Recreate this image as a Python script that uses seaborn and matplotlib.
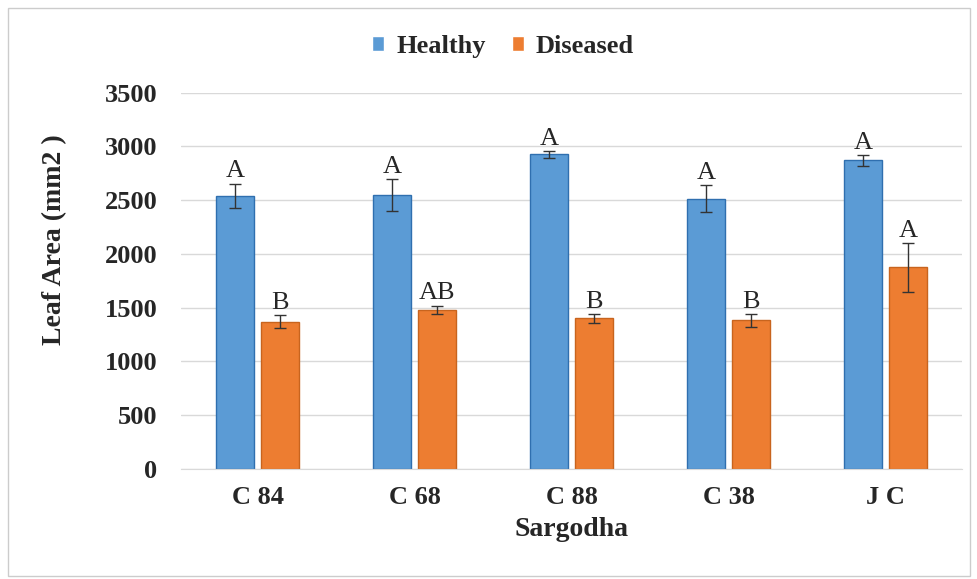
import pandas as pd
import matplotlib.pyplot as plt
import seaborn as sns

# Datos
cultivares = ['C 84', 'C 68', 'C 88', 'C 38', 'J C']
sano = [2540, 2545, 2925, 2515, 2870]
enfermo = [1370, 1480, 1400, 1385, 1875]
err_sano = [115, 150, 35, 125, 50]
err_enfermo = [60, 40, 40, 60, 225]
letras_sano = ['A', 'A', 'A', 'A', 'A']
letras_enfermo = ['B', 'AB', 'B', 'B', 'A']

df = pd.DataFrame({
    'Sargodha': cultivares * 2,
    'valor': sano + enfermo,
    'err': err_sano + err_enfermo,
    'letra': letras_sano + letras_enfermo,
    'grupo': ['Healthy'] * 5 + ['Diseased'] * 5,
})

sns.set_style('white')
plt.rcParams['font.family'] = ['Liberation Serif', 'DejaVu Serif']

fig, ax = plt.subplots(figsize=(9.77, 5.79), dpi=100)
fig.subplots_adjust(left=0.185, right=0.985, bottom=0.19, top=0.84)

colores = {'Healthy': '#5B9BD5', 'Diseased': '#ED7D31'}
sns.barplot(data=df, x='Sargodha', y='valor', hue='grupo', palette=colores,
            width=0.57, gap=0.15, ax=ax, errorbar=None, saturation=1)

# Bordes de las barras, barras de error y letras
bordes = {'Healthy': '#2F6FAF', 'Diseased': '#C8641E'}
for cont, grupo in zip(ax.containers, ['Healthy', 'Diseased']):
    sub = df[df['grupo'] == grupo]
    for barra, (_, fila) in zip(cont, sub.iterrows()):
        barra.set_edgecolor(bordes[grupo])
        barra.set_linewidth(1)
        xc = barra.get_x() + barra.get_width() / 2
        ax.errorbar(xc, fila['valor'], yerr=fila['err'], color='#333333',
                    capsize=4, elinewidth=1, capthick=1)
        ax.text(xc, fila['valor'] + fila['err'] + 10, fila['letra'],
                ha='center', va='bottom', fontsize=19)

ax.set_ylim(0, 3500)
ax.set_yticks(range(0, 3501, 500))
ax.yaxis.grid(True, color='#d9d9d9', linewidth=1)
ax.set_axisbelow(True)
for lado in ['top', 'right', 'left']:
    ax.spines[lado].set_visible(False)
ax.spines['bottom'].set_color('#d9d9d9')

ax.tick_params(axis='y', length=0, labelsize=19, pad=17)
ax.tick_params(axis='x', length=0, labelsize=19, pad=12)
for t in ax.get_xticklabels() + ax.get_yticklabels():
    t.set_fontweight('bold')
ax.set_xlabel('Sargodha', fontsize=20, fontweight='bold', labelpad=6)
ax.set_ylabel('Leaf Area (mm2 )', fontsize=20, fontweight='bold')
ax.yaxis.set_label_coords(-0.145, 0.61)

h, l = ax.get_legend_handles_labels()
ax.legend_.remove()
fig.legend(h, l, loc='center', bbox_to_anchor=(0.515, 0.92), ncol=2, frameon=False,
           handlelength=0.45, handleheight=0.45, handletextpad=0.45, columnspacing=1.0,
           prop={'size': 19, 'weight': 'bold'})

fig.patches.append(plt.Rectangle((0.008, 0.006), 0.985, 0.98, transform=fig.transFigure,
                                 fill=False, edgecolor='#cccccc', linewidth=1))

plt.savefig('out.png', dpi=100)
